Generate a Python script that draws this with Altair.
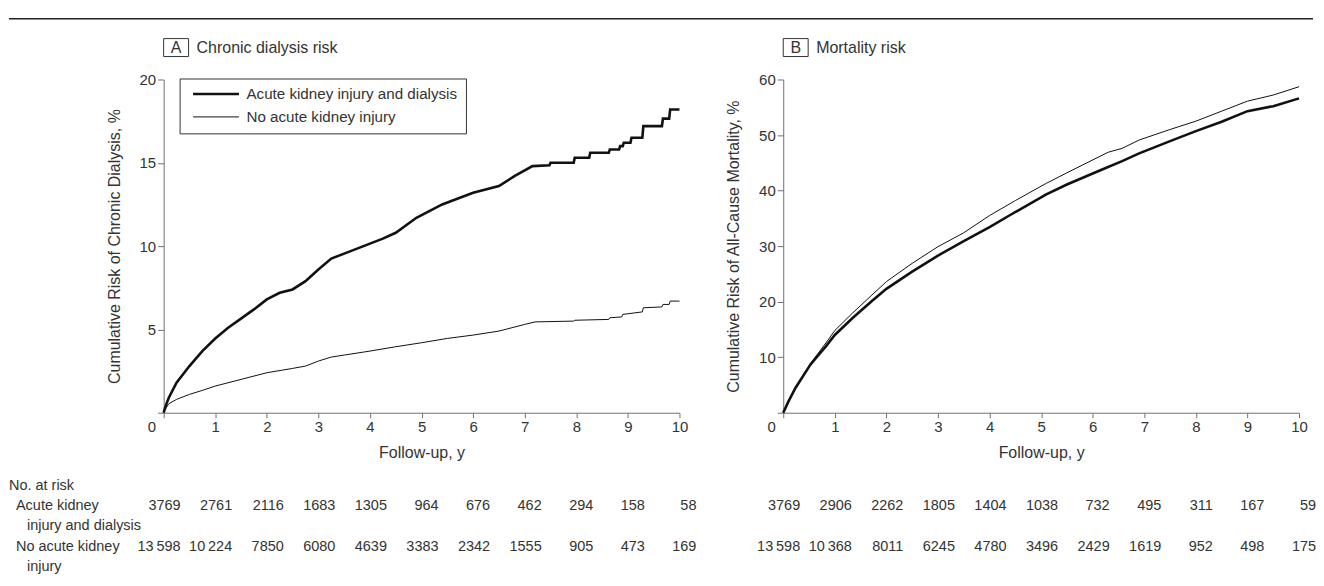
import altair as alt
import pandas as pd

FONT = "Liberation Sans, Arial, sans-serif"
TXT = "#333333"
AXC = "#707070"
LINE = "#111111"

series = ["Acute kidney injury and dialysis", "No acute kidney injury"]
years = list(range(11))

# Panel A - cumulative risk of chronic dialysis, %
dial_aki_t = [0, 0.05, 0.1, 0.25, 0.5, 0.75, 1.0, 1.25, 1.5, 1.75, 2.0, 2.25, 2.5, 2.75,
              3.0, 3.25, 3.5, 3.75, 4.0, 4.25, 4.5, 4.9, 5.4, 6.0, 6.5, 6.8, 7.15, 7.48,
              7.5, 7.95, 7.97, 8.25, 8.27, 8.63, 8.65, 8.83, 8.85, 8.9, 8.92, 9.05, 9.07,
              9.28, 9.3, 9.66, 9.68, 9.8, 9.82, 10.0]
dial_aki_v = [0, 0.5, 0.9, 1.8, 2.8, 3.7, 4.45, 5.1, 5.65, 6.2, 6.8, 7.2, 7.4, 7.9,
              8.6, 9.25, 9.55, 9.85, 10.15, 10.45, 10.8, 11.7, 12.5, 13.2, 13.6, 14.2, 14.8, 14.85,
              15.0, 15.0, 15.3, 15.3, 15.6, 15.6, 15.8, 15.8, 16.0, 16.0, 16.2, 16.2, 16.5,
              16.5, 17.2, 17.2, 17.65, 17.65, 18.2, 18.2]
dial_no_t = [0, 0.05, 0.1, 0.25, 0.5, 0.75, 1.0, 1.5, 2.0, 2.5, 2.75, 3.0, 3.25, 3.5,
             4.0, 4.5, 5.0, 5.5, 6.0, 6.5, 7.0, 7.2, 7.95, 7.97, 8.63, 8.65, 8.88, 8.9,
             9.28, 9.3, 9.66, 9.68, 9.8, 9.82, 10.0]
dial_no_v = [0, 0.3, 0.54, 0.8, 1.1, 1.34, 1.6, 2.0, 2.4, 2.66, 2.8, 3.1, 3.34, 3.46,
             3.7, 3.96, 4.2, 4.46, 4.66, 4.9, 5.3, 5.45, 5.5, 5.55, 5.6, 5.7, 5.75, 5.9,
             6.05, 6.3, 6.35, 6.5, 6.5, 6.7, 6.7]

# Panel B - cumulative risk of all-cause mortality, %
mort_aki_t = [0, 0.1, 0.24, 0.53, 0.83, 1.0, 1.35, 1.72, 2.0, 2.5, 3.0, 3.5, 4.0, 4.4,
              5.1, 5.5, 6.16, 6.57, 6.9, 7.5, 8.0, 8.5, 9.0, 9.5, 10.0]
mort_aki_v = [0, 2.0, 4.5, 8.7, 12.0, 14.0, 17.1, 20.1, 22.3, 25.4, 28.3, 30.9, 33.4, 35.6,
              39.3, 41.1, 43.7, 45.3, 46.7, 48.9, 50.7, 52.4, 54.3, 55.2, 56.6]
mort_no_t = [0, 0.1, 0.24, 0.53, 0.83, 1.0, 1.35, 1.72, 2.0, 2.5, 3.0, 3.5, 4.0, 4.5,
             5.1, 5.5, 6.3, 6.57, 6.9, 7.5, 8.0, 8.5, 9.0, 9.5, 10.0]
mort_no_v = [0, 2.0, 4.6, 8.9, 12.6, 14.8, 18.0, 21.2, 23.6, 26.9, 29.9, 32.4, 35.5, 38.2,
             41.3, 43.2, 46.9, 47.6, 49.1, 51.0, 52.5, 54.3, 56.1, 57.2, 58.7]

# Number at risk
risk_a_aki = ["3769", "2761", "2116", "1683", "1305", "964", "676", "462", "294", "158", "58"]
risk_a_no = ["13\u2009598", "10\u2009224", "7850", "6080", "4639", "3383", "2342", "1555", "905", "473", "169"]
risk_b_aki = ["3769", "2906", "2262", "1805", "1404", "1038", "732", "495", "311", "167", "59"]
risk_b_no = ["13\u2009598", "10\u2009368", "8011", "6245", "4780", "3496", "2429", "1619", "952", "498", "175"]

slots = ["hdr", "r1", "r1b", "r2", "r2b"]
row_lines = ["No. at risk", "Acute kidney", "injury and dialysis", "No acute kidney", "injury"]
row_indent = [0, 1, 2, 1, 2]

panel_letters = ["A", "B"]
panel_titles = ["Chronic dialysis risk", "Mortality risk"]
y_titles = ["Cumulative Risk of Chronic Dialysis, %", "Cumulative Risk of All-Cause Mortality, %"]

W, H = 517, 334
zero_test = "datum.value === 0"


def curves(t1, v1, t2, v2):
    rows = []
    for s, ts, vs in ((series[0], t1, v1), (series[1], t2, v2)):
        for i, (t, v) in enumerate(zip(ts, vs)):
            rows.append({"t": t, "v": v, "group": s, "i": i})
    return pd.DataFrame(rows)


def panel(df, idx, ymax, ystep, with_legend, with_rule):
    x = alt.X("t:Q", scale=alt.Scale(domain=[0, 10], nice=False),
              axis=alt.Axis(values=years, title="Follow-up, y", grid=False, tickSize=5,
                            labelPadding=2, labelFontSize=15, titleFontSize=16,
                            titleFontWeight="normal", titlePadding=10, labelColor=TXT,
                            titleColor=TXT, domainColor=AXC, tickColor=AXC, labelFlush=False,
                            labelOverlap=False,
                            labelAlign={"condition": {"test": zero_test, "value": "right"}, "value": "center"},
                            labelOffset={"condition": {"test": zero_test, "value": -8}, "value": 0}))
    y = alt.Y("v:Q", scale=alt.Scale(domain=[0, ymax], nice=False),
              axis=alt.Axis(values=list(range(0, ymax + 1, ystep)),
                            labelExpr="datum.value === 0 ? '' : datum.label",
                            title=y_titles[idx], grid=False, tickSize=6, labelPadding=2,
                            labelFontSize=15, titleFontSize=16, titleFontWeight="normal",
                            titlePadding=17, labelColor=TXT, titleColor=TXT, domainColor=AXC,
                            tickColor=AXC, labelFlush=False, labelOverlap=False))
    sw_scale = alt.Scale(domain=series, range=[2.6, 1.0])
    if with_legend:
        sw = alt.StrokeWidth("group:N", scale=sw_scale, sort=series,
                             legend=alt.Legend(title=None, orient="none", legendX=16, legendY=-1,
                                               direction="vertical", symbolType="stroke",
                                               symbolSize=2116, symbolStrokeColor=LINE,
                                               strokeColor="#333333", fillColor="white",
                                               padding=8, symbolOffset=4, clipHeight=15,
                                               labelFont=FONT, labelFontSize=15.2, labelColor=TXT,
                                               labelOffset=6, rowPadding=7, labelLimit=400))
    else:
        sw = alt.StrokeWidth("group:N", scale=sw_scale, legend=None)
    lines = alt.Chart(df).mark_line(color=LINE).encode(x=x, y=y, strokeWidth=sw, order="i:Q")

    lab = pd.DataFrame({"letter": [panel_letters[idx]], "title": [panel_titles[idx]]})
    box = alt.Chart(lab).mark_rect(fillOpacity=0, stroke="#333333", strokeWidth=1).encode(
        x=alt.value(0), x2=alt.value(25), y=alt.value(-41), y2=alt.value(-23))
    letter = alt.Chart(lab).mark_text(font=FONT, fontSize=16, color=TXT, align="center",
                                      baseline="middle").encode(
        x=alt.value(12.5), y=alt.value(-31.5), text="letter:N")
    ttl = alt.Chart(lab).mark_text(font=FONT, fontSize=16, color=TXT, align="left",
                                   baseline="middle").encode(
        x=alt.value(33), y=alt.value(-31.5), text="title:N")
    layers = [lines, box, letter, ttl]
    if with_rule:
        rule = alt.Chart(lab).mark_rule(color="#222222", strokeWidth=1.5).encode(
            x=alt.value(-155), x2=alt.value(1152), y=alt.value(-61))
        layers.append(rule)
    return alt.layer(*layers).properties(width=W, height=H)


def table(aki_vals, no_vals, with_labels):
    df = pd.DataFrame({"year": years + years, "n": aki_vals + no_vals,
                       "slot": ["r1"] * 11 + ["r2"] * 11})
    x = alt.X("year:Q", scale=alt.Scale(domain=[0, 10], nice=False), axis=None)
    y = alt.Y("slot:N", scale=alt.Scale(type="point", domain=slots, padding=0.5), axis=None)
    nums = alt.Chart(df).mark_text(align="right", baseline="middle", dx=17, font=FONT,
                                   fontSize=14.5, color=TXT).encode(x=x, y=y, text="n:N")
    layers = [nums]
    if with_labels:
        ldf = pd.DataFrame({"slot": slots, "line": row_lines, "indent": row_indent})
        for lvl, px in ((0, -155), (1, -148), (2, -137)):
            layers.append(
                alt.Chart(ldf).transform_filter(f"datum.indent === {lvl}").mark_text(
                    align="left", baseline="middle", font=FONT, fontSize=14.5, color=TXT
                ).encode(x=alt.value(px), y=y, text="line:N"))
    return alt.layer(*layers).properties(width=W, height=102)


pA = panel(curves(dial_aki_t, dial_aki_v, dial_no_t, dial_no_v), 0, 20, 5, True, True)
pB = panel(curves(mort_aki_t, mort_aki_v, mort_no_t, mort_no_v), 1, 60, 10, False, False)
tA = table(risk_a_aki, risk_a_no, True)
tB = table(risk_b_aki, risk_b_no, False)

chart = alt.concat(pA, pB, tA, tB, columns=2, spacing={"row": 63, "column": 104},
                   bounds="flush").resolve_scale(strokeWidth="independent").properties(
    padding={"left": 0, "top": 9, "right": 0, "bottom": 0}
).configure(font=FONT, view=alt.ViewConfig(stroke="transparent", strokeWidth=0))

chart.save("out.html", embed_options={"renderer": "svg", "actions": False})
